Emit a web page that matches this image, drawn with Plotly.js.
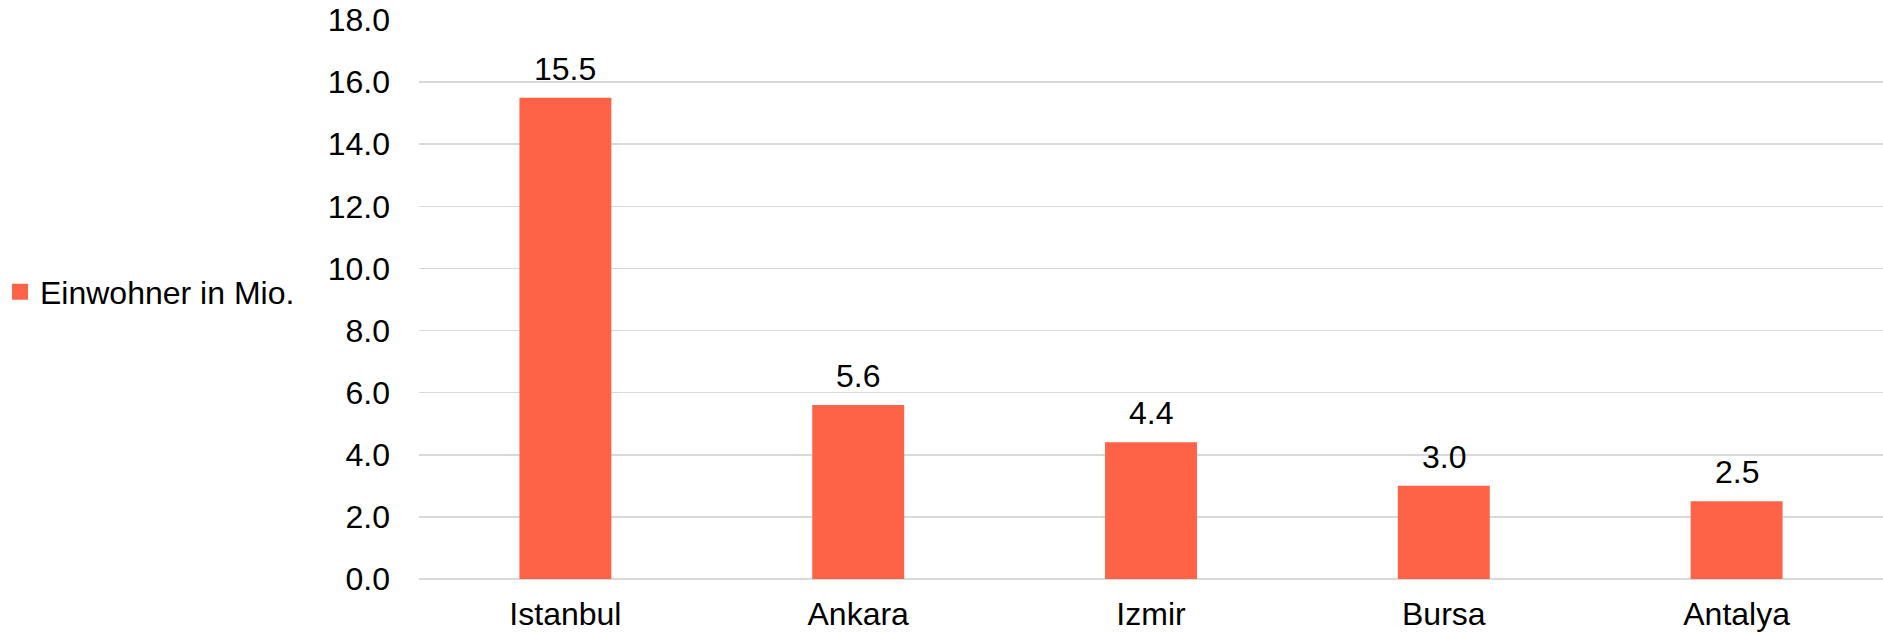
<!DOCTYPE html>
<html>
<head>
<meta charset="utf-8">
<script src="https://cdn.plot.ly/plotly-3.0.1.min.js"></script>
<style>html,body{margin:0;padding:0;background:#fff;}#chart{width:1883px;height:634px;}</style>
</head>
<body>
<div id="chart"></div>
<script>
const cities = ["Istanbul", "Ankara", "Izmir", "Bursa", "Antalya"];
const population = [15.5, 5.6, 4.4, 3.0, 2.5];
const seriesName = "Einwohner in Mio.";
const yTicks = [0, 2, 4, 6, 8, 10, 12, 14, 16, 18];

const FONT = "Liberation Sans, Arial, sans-serif";
const FS = 32;
const barColor = "#FF6347";

const trace = {
  type: "bar",
  x: cities,
  y: population,
  name: seriesName,
  marker: {color: barColor},
  showlegend: true,
  hoverinfo: "x+y"
};

const annotations = cities.map((c, i) => ({
  x: c, y: population[i], xref: "x", yref: "y",
  text: population[i].toFixed(1),
  showarrow: false, yanchor: "bottom", yshift: 9,
  font: {family: FONT, size: FS, color: "#000"}
}));

const layout = {
  width: 1883, height: 634,
  margin: {l: 419, r: 0, t: 20, b: 55},
  paper_bgcolor: "#fff", plot_bgcolor: "#fff",
  font: {family: FONT, size: FS, color: "#000"},
  bargap: 0.686,
  xaxis: {
    type: "category",
    showgrid: false, showline: false, zeroline: false,
    ticks: "outside", ticklen: 7, tickcolor: "rgba(0,0,0,0)",
    tickfont: {family: FONT, size: FS, color: "#000"}
  },
  yaxis: {
    range: [0, 18],
    tickvals: yTicks,
    ticktext: yTicks.map(v => v.toFixed(1)),
    showgrid: true, gridcolor: "#d9d9d9", gridwidth: 1.5,
    zeroline: true, zerolinecolor: "#d9d9d9", zerolinewidth: 1.5,
    showline: false, ticks: "", ticklabelstandoff: 28,
    tickfont: {family: FONT, size: FS, color: "#000"}
  },
  showlegend: true,
  legend: {
    xref: "container", yref: "container",
    x: 0, y: 1 - 292/634, xanchor: "left", yanchor: "middle",
    font: {family: FONT, size: FS, color: "#000"},
    bgcolor: "rgba(0,0,0,0)", borderwidth: 0
  },
  annotations: annotations
};

Plotly.newPlot("chart", [trace], layout, {displayModeBar: false, staticPlot: true}).then(gd => {
  gd.querySelectorAll(".legendpoints path").forEach(p => {
    p.setAttribute("d", "M8,8H-8V-8H8Z");
  });
});
</script>
</body>
</html>
